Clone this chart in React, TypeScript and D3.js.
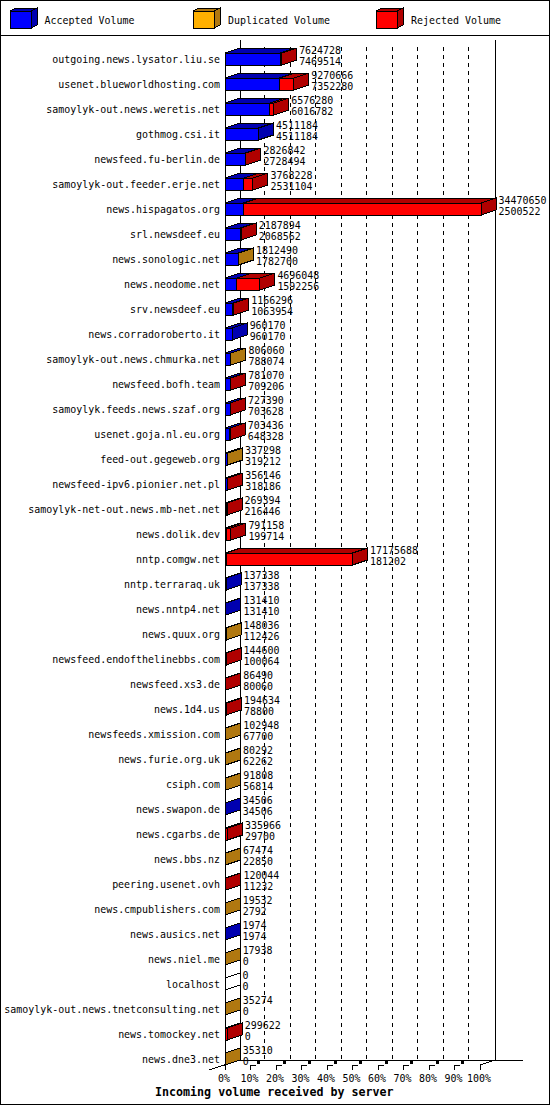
import React from "react";
import * as d3 from "d3";

const servers = ["outgoing.news.lysator.liu.se","usenet.blueworldhosting.com","samoylyk-out.news.weretis.net","gothmog.csi.it","newsfeed.fu-berlin.de","samoylyk-out.feeder.erje.net","news.hispagatos.org","srl.newsdeef.eu","news.sonologic.net","news.neodome.net","srv.newsdeef.eu","news.corradoroberto.it","samoylyk-out.news.chmurka.net","newsfeed.bofh.team","samoylyk.feeds.news.szaf.org","usenet.goja.nl.eu.org","feed-out.gegeweb.org","newsfeed-ipv6.pionier.net.pl","samoylyk-net-out.news.mb-net.net","news.dolik.dev","nntp.comgw.net","nntp.terraraq.uk","news.nntp4.net","news.quux.org","newsfeed.endofthelinebbs.com","newsfeed.xs3.de","news.1d4.us","newsfeeds.xmission.com","news.furie.org.uk","csiph.com","news.swapon.de","news.cgarbs.de","news.bbs.nz","peering.usenet.ovh","news.cmpublishers.com","news.ausics.net","news.niel.me","localhost","samoylyk-out.news.tnetconsulting.net","news.tomockey.net","news.dne3.net"];
const totalVolume = [7624728,9270666,6576280,4511184,2826842,3768228,34470650,2187894,1812490,4696048,1166296,960170,806060,781070,727390,703436,337298,356146,269394,791158,17175688,137338,131410,148036,144600,86490,194634,102948,80292,91808,34506,335966,67474,120044,19532,1974,17938,0,35274,299622,35310];
const acceptedVolume = [7469514,7352280,6016782,4511184,2728494,2531104,2500522,2068562,1782700,1592256,1063954,960170,788074,709206,703628,648328,319212,318186,216446,199714,181202,137338,131410,112426,100064,80060,78800,67700,62262,56814,34506,29700,22850,11232,2792,1974,0,0,0,0,0];
// colour of the part of each bar above the accepted volume: R rejected, D duplicated, A none
const remainderKind = ["R","R","R","A","R","R","R","R","D","R","R","A","D","R","R","R","D","R","R","R","R","A","A","D","R","R","R","D","D","D","A","R","D","R","D","A","D","A","D","R","D"];
const legendLabels = ["Accepted Volume","Duplicated Volume","Rejected Volume"];
const percentTicks = [0,10,20,30,40,50,60,70,80,90,100];
const chartTitle = "Incoming volume received by server";

const palette: Record<string,{front:string;dark:string}> = {
  A:{front:"#0000ff",dark:"#0000b0"},
  D:{front:"#ffb000",dark:"#b07810"},
  R:{front:"#ff0000",dark:"#b00000"},
};
const W=550,H=1105,DX=15,DY=5,FH=12;
const font='"DejaVu Sans Mono", monospace';
const FS=9.96;
const x=d3.scaleLinear().domain([0,d3.max(totalVolume) as number]).range([225,481]);
const pct=d3.scaleLinear().domain([0,100]).range([225,480]);
const y=d3.scalePoint<number>().domain(d3.range(servers.length)).range([59,1059]);
const pts=(p:number[][])=>p.map(q=>q.join(",")).join(" ");
const ink={stroke:"#000",strokeWidth:1,shapeRendering:"crispEdges" as const};

function Bar({i}:{i:number}){
  const cy=y(i) as number, t=cy-6, b=t+FH;
  const x0=x(0), xa=x(acceptedVolume[i]), xt=x(totalVolume[i]);
  const k=remainderKind[i];
  const empty=totalVolume[i]===0;
  const top=(a:number,c:number,fill:string,key:string)=>(
    <polygon key={key} points={pts([[a,t],[a+DX,t-DY],[c+DX,t-DY],[c,t]])} fill={fill} {...ink}/>
  );
  return <g>
    {acceptedVolume[i]>0&&top(x0,xa,palette.A.dark,"ta")}
    {k!=="A"&&xt>xa&&top(xa,xt,palette[k].dark,"tr")}
    <polygon points={pts([[xt,t],[xt+DX,t-DY],[xt+DX,b-DY],[xt,b]])} fill={empty?"none":palette[k].dark} {...ink}/>
    {acceptedVolume[i]>0&&<rect x={x0} y={t} width={xa-x0} height={FH} fill={palette.A.front} {...ink}/>}
    {k!=="A"&&xt>xa&&<rect x={xa} y={t} width={xt-xa} height={FH} fill={palette[k].front} {...ink}/>}
  </g>;
}

function Legend(){
  const xs=[10,193,376], tx=[44.5,228,411], kinds=["A","D","R"];
  return <g>{legendLabels.map((s,i)=>{
    const c=palette[kinds[i]], l=xs[i], r=l+21, t=11, b=28;
    return <g key={s}>
      <polygon points={pts([[l,t],[l+6,t-3],[r+6,t-3],[r,t]])} fill={c.dark} {...ink}/>
      <polygon points={pts([[r,t],[r+6,t-3],[r+6,b-3],[r,b]])} fill={c.dark} {...ink}/>
      <rect x={l} y={t} width={21} height={b-t} fill={c.front} {...ink}/>
      <text x={tx[i]} y={24} fontFamily={font} fontSize={FS}>{s}</text>
    </g>;})}</g>;
}

export default function App(){
  return <svg width={W} height={H} viewBox={`0 0 ${W} ${H}`} style={{position:"absolute",left:0,top:0,background:"#fff"}}>
    <rect x={0.5} y={0.5} width={W-1} height={H-1} fill="#fff" stroke="#000"/>
    <line x1={0} x2={W} y1={35.5} y2={35.5} stroke="#000"/>
    <Legend/>
    {percentTicks.slice(1,10).map(p=>{
      const gx=Math.floor(pct(p))+14.5;
      return <line key={p} x1={gx} x2={gx} y1={47} y2={1060} stroke="#000" strokeDasharray="4 4" shapeRendering="crispEdges"/>;
    })}
    <line x1={240.5} x2={240.5} y1={40} y2={1060} {...ink}/>
    <line x1={495.5} x2={495.5} y1={40} y2={1060} {...ink}/>
    <line x1={225.5} x2={225.5} y1={53} y2={1070} {...ink}/>
    <line x1={240} x2={523} y1={1060.5} y2={1060.5} {...ink}/>
    <line x1={209} y1={1070} x2={240} y2={1060} stroke="#000" shapeRendering="crispEdges"/>
    <line x1={480} y1={1065} x2={495} y2={1060} stroke="#000" shapeRendering="crispEdges"/>
    {percentTicks.map(p=><g key={p}>
      <line x1={Math.floor(pct(p))+0.5} x2={Math.floor(pct(p))+0.5} y1={1065} y2={1070} {...ink}/>
      {p>0&&p<100&&<g>
        <line x1={Math.floor(pct(p))} x2={Math.floor(pct(p))+6} y1={1065.5} y2={1065.5} {...ink}/>
        <rect x={Math.floor(pct(p))+7} y={1061} width={3} height={3} fill="#000"/>
      </g>}
      <text x={pct(p)-1} y={1082} textAnchor="middle" fontFamily={font} fontSize={FS}>{p}%</text>
    </g>)}
    {servers.map((s,i)=><g key={s}>
      <text x={220} y={(y(i) as number)+4} textAnchor="end" fontFamily={font} fontSize={FS}>{s}</text>
      <Bar i={i}/>
      <text x={x(totalVolume[i])+17.5} y={(y(i) as number)-5} fontFamily={font} fontSize={FS}>{totalVolume[i]}</text>
      <text x={x(totalVolume[i])+17.5} y={(y(i) as number)+6} fontFamily={font} fontSize={FS}>{acceptedVolume[i]}</text>
    </g>)}
    <text x={155} y={1096} fontFamily={font} fontSize={11.67} fontWeight="bold">{chartTitle}</text>
  </svg>;
}
